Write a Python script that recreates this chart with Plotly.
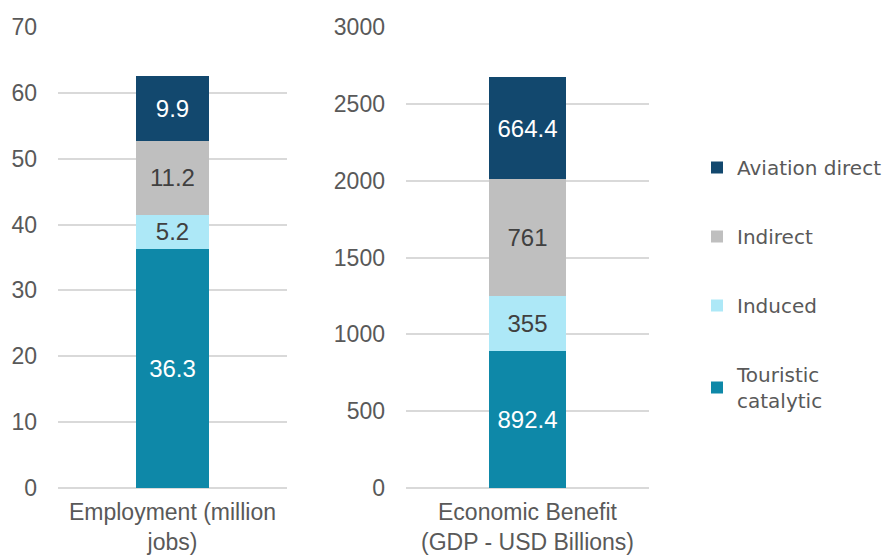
import plotly.graph_objects as go

# Component breakdown shared by both stacked bars (bottom to top)
components = ["Touristic<br>catalytic", "Induced", "Indirect", "Aviation direct"]
colors = ["#0E88A8", "#ADE8F7", "#BFBFBF", "#12486E"]
label_colors = ["#FFFFFF", "#404040", "#404040", "#FFFFFF"]

employment_cat = ["Employment (million<br>jobs)"]
employment_vals = [36.3, 5.2, 11.2, 9.9]

gdp_cat = ["Economic Benefit<br>(GDP - USD Billions)"]
gdp_vals = [892.4, 355, 761, 664.4]

fig = go.Figure()

n = len(components)
for i, name in enumerate(components):
    fig.add_trace(go.Bar(
        x=employment_cat, y=[employment_vals[i]], name=name,
        marker=dict(color=colors[i], line=dict(width=0)),
        width=0.315, text=[f"{employment_vals[i]:g}"],
        textposition="inside", insidetextanchor="middle",
        textfont=dict(color=label_colors[i], size=24, family="Liberation Sans"),
        legendgroup=name, legendrank=n - i, showlegend=True,
        xaxis="x", yaxis="y",
    ))
    fig.add_trace(go.Bar(
        x=gdp_cat, y=[gdp_vals[i]], name=name,
        marker=dict(color=colors[i], line=dict(width=0)),
        width=0.315, text=[f"{gdp_vals[i]:g}"],
        textposition="inside", insidetextanchor="middle",
        textfont=dict(color=label_colors[i], size=24, family="Liberation Sans"),
        legendgroup=name, legendrank=n - i, showlegend=False,
        xaxis="x2", yaxis="y2",
    ))

axis_font = dict(family="Liberation Sans", size=23, color="#595959")
ydom = [68 / 556, 529 / 556]

common_x = dict(range=[-0.5, 0.5], showgrid=False, showline=False, ticks="",
                tickfont=axis_font, automargin=False, ticklabelstandoff=8)
common_y = dict(showgrid=True, gridcolor="#D9D9D9", gridwidth=1.5,
                zeroline=True, zerolinecolor="#D9D9D9", zerolinewidth=1.5,
                showline=False, ticks="", tickfont=axis_font,
                ticklabelstandoff=20, automargin=False)

fig.update_layout(
    width=888, height=556,
    margin=dict(l=0, r=0, t=0, b=0, autoexpand=False),
    paper_bgcolor="white", plot_bgcolor="white",
    barmode="stack",
    xaxis=dict(domain=[58 / 888, 287 / 888], anchor="y", **common_x),
    yaxis=dict(domain=ydom, range=[0, 70], dtick=10, anchor="x", **common_y),
    xaxis2=dict(domain=[406 / 888, 649 / 888], anchor="y2", **common_x),
    yaxis2=dict(domain=ydom, range=[0, 3000], dtick=500, anchor="x2", **common_y),
    legend=dict(
        x=697 / 888, y=1 - 148 / 556, xanchor="left", yanchor="top",
        traceorder="grouped", tracegroupgap=40,
        font=dict(family="DejaVu Sans", size=20, color="#595959"),
        itemwidth=30, bgcolor="rgba(0,0,0,0)",
    ),
    showlegend=True,
)

fig.write_html("out.html")
